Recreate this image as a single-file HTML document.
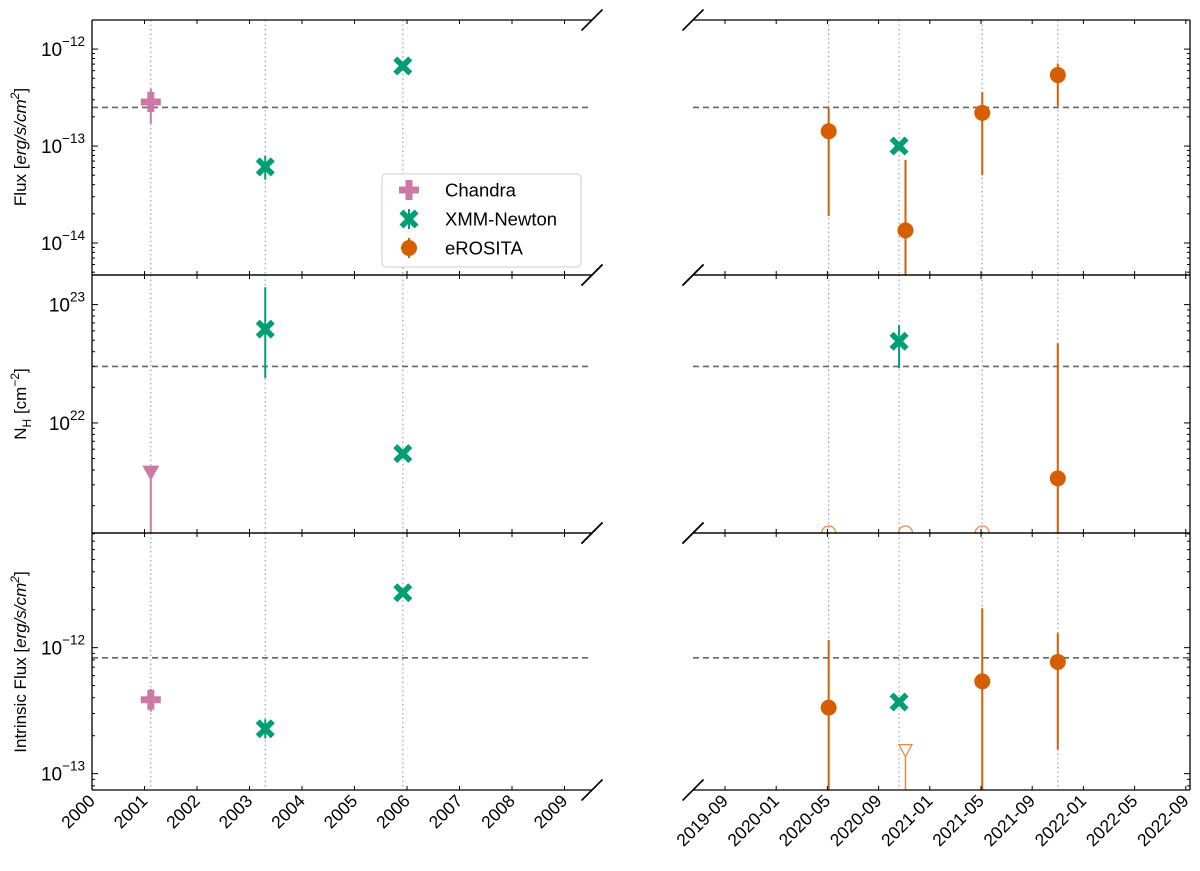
<!DOCTYPE html>
<html><head><meta charset="utf-8"><style>
html,body{margin:0;background:#fff;overflow:hidden;width:1200px;height:871px}
svg{display:block;font-family:"Liberation Sans","DejaVu Sans",sans-serif}
</style></head><body>
<svg id="fig" width="1200" height="871" viewBox="0 0 1200 871" xmlns="http://www.w3.org/2000/svg"></svg>
<script>
// ---- data ----
const obsYearsLeft = [2001.12, 2003.3, 2005.92];
const obsMonthsRight = [8.1, 13.6, 20.1, 26.0];
const chandraDate = [2001.12];
const chandraFlux = [2.85e-13], chandraFluxLo = [1.7e-13], chandraFluxHi = [3.9e-13];
const chandraNHUL = [3.8e21];
const chandraIFlux = [3.86e-13], chandraIFluxLo = [3.1e-13], chandraIFluxHi = [4.7e-13];
const xmmDateL = [2003.3, 2005.92];
const xmmFluxL = [6.1e-14, 6.7e-13], xmmFluxLoL = [4.5e-14, 6.3e-13], xmmFluxHiL = [7.9e-14, 7.2e-13];
const xmmNHL = [6.2e22, 5.5e21], xmmNHLoL = [2.4e22, 5.0e21], xmmNHHiL = [1.4e23, 6.0e21];
const xmmIFluxL = [2.27e-13, 2.73e-12], xmmIFluxLoL = [1.9e-13, 2.6e-12], xmmIFluxHiL = [2.7e-13, 2.9e-12];
const xmmDateR = [13.6];
const xmmFluxR = [1.0e-13], xmmNHR = [4.9e22], xmmNHLoR = [2.9e22], xmmNHHiR = [6.7e22], xmmIFluxR = [3.7e-13];
const eroDate = [8.1, 14.1, 20.1, 26.0];
const eroFlux = [1.42e-13, 1.35e-14, 2.2e-13, 5.4e-13];
const eroFluxLo = [1.9e-14, 1e-16, 5.0e-14, 2.6e-13];
const eroFluxHi = [2.5e-13, 7.2e-14, 3.6e-13, 7.1e-13];
const eroNH = [null, null, null, 3.4e21];
const eroNHLo = [null, null, null, 1e19];
const eroNHHi = [null, null, null, 4.7e22];
const eroIFlux = [3.34e-13, null, 5.4e-13, 7.7e-13];
const eroIFluxLo = [1e-15, null, 1e-15, 1.55e-13];
const eroIFluxHi = [1.15e-12, null, 2.05e-12, 1.3e-12];
const eroNHOpen = [8.1, 14.1, 20.1];
const eroIFluxUL = [{d:14.1, v:1.55e-13}];
const refFlux = 2.5e-13, refNH = 3.0e22, refIFlux = 8.3e-13;
const leftTicks = ['2000','2001','2002','2003','2004','2005','2006','2007','2008','2009'];
const rightTicks = ['2019-09','2020-01','2020-05','2020-09','2021-01','2021-05','2021-09','2022-01','2022-05','2022-09'];

// ---- layout ----
const NS='http://www.w3.org/2000/svg';
const svg=document.getElementById('fig');
function el(tag,attrs,parent){const e=document.createElementNS(NS,tag);for(const k in attrs)e.setAttribute(k,attrs[k]);(parent||svg).appendChild(e);return e;}
const LX0=92, LX1=592, RX0=693, RX1=1190;
const xL = y => LX0 + (y-2000)*52.5;
const xR = m => 725 + m*12.8;
const rows=[
 {y0:20,y1:275,top:-11.70,bot:-14.33},
 {y0:275,y1:533,top:23.25,bot:21.07},
 {y0:533,y1:790,top:-11.09,bot:-13.13}
];
function yS(r,v){const R=rows[r];const l=Math.log10(v);return R.y0+(R.top-l)/(R.top-R.bot)*(R.y1-R.y0);}
const PINK='#cc79a7', GREEN='#009e73', ORANGE='#d55e00', LORANGE='#ee8844';

const defs=el('defs',{});
for(let r=0;r<3;r++){
  [[LX0,LX1,'L'],[RX0,RX1,'R']].forEach(([a,b,s])=>{
    const c=el('clipPath',{id:'c'+r+s},defs);
    el('rect',{x:a,y:rows[r].y0,width:b-a,height:rows[r].y1-rows[r].y0},c);
  });
}
function grp(r,s){const g=el('g',{'clip-path':'url(#c'+r+s+')'});return g;}

for(let r=0;r<3;r++){
  const gL=grp(r,'L'), gR=grp(r,'R');
  obsYearsLeft.forEach(v=>{const l=el('line',{x1:xL(v),x2:xL(v),y1:rows[r].y0,y2:rows[r].y1,stroke:'#aaa','stroke-width':1.3,'stroke-dasharray':'1.5 3'},gL);
    
    });
  obsMonthsRight.forEach(v=>{const l=el('line',{x1:xR(v),x2:xR(v),y1:rows[r].y0,y2:rows[r].y1,stroke:'#aaa','stroke-width':1.3,'stroke-dasharray':'1.5 3'},gR);
    
    });
}
[refFlux,refNH,refIFlux].forEach((v,r)=>{
  [[LX0,LX1],[RX0,RX1]].forEach(([a,b])=>{
    const l=el('line',{x1:a,x2:b,y1:yS(r,v),y2:yS(r,v),stroke:'#666','stroke-width':1.6,'stroke-dasharray':'6 4'});
    
    
  });
});

function errbar(g,x,ylo,yhi,c,w){el('line',{x1:x,x2:x,y1:ylo,y2:yhi,stroke:c,'stroke-width':w||2},g);}
function plus(g,x,y,c){return el('path',{d:`M${x-3.5},${y-10}h7v6.5h6.5v7h-6.5v6.5h-7v-6.5h-6.5v-7h6.5z`,fill:c},g);}
function xmark(g,x,y,c){return el('path',{d:`M${x},${y-4}l5.5,-5.5l4,4l-5.5,5.5l5.5,5.5l-4,4l-5.5,-5.5l-5.5,5.5l-4,-4l5.5,-5.5l-5.5,-5.5l4,-4z`,fill:c},g);}
function circ(g,x,y,c){return el('circle',{cx:x,cy:y,r:8,fill:c},g);}

// ---- row 0 ----
{let g=grp(0,'L');
 chandraDate.forEach((d,i)=>{errbar(g,xL(d),yS(0,chandraFluxLo[i]),yS(0,chandraFluxHi[i]),PINK);const m=plus(g,xL(d),yS(0,chandraFlux[i]),PINK);
   
   });
 xmmDateL.forEach((d,i)=>{errbar(g,xL(d),yS(0,xmmFluxLoL[i]),yS(0,xmmFluxHiL[i]),GREEN);const m=xmark(g,xL(d),yS(0,xmmFluxL[i]),GREEN);
   
   });
 g=grp(0,'R');
 xmmDateR.forEach((d,i)=>{const m=xmark(g,xR(d),yS(0,xmmFluxR[i]),GREEN);
   
   });
 eroDate.forEach((d,i)=>{errbar(g,xR(d),yS(0,eroFluxLo[i]),yS(0,eroFluxHi[i]),ORANGE);const m=circ(g,xR(d),yS(0,eroFlux[i]),ORANGE);
   
   });
}
// ---- row 1 ----
{let g=grp(1,'L');
 chandraNHUL.forEach((v,i)=>{const x=xL(chandraDate[i]),y=yS(1,v);errbar(g,x,y,rows[1].y1,PINK);
   const m=el('path',{d:`M${x-8.5},${y-7}h17l-8.5,15z`,fill:PINK},g);
   
   });
 xmmDateL.forEach((d,i)=>{errbar(g,xL(d),yS(1,xmmNHLoL[i]),yS(1,xmmNHHiL[i]),GREEN);const m=xmark(g,xL(d),yS(1,xmmNHL[i]),GREEN);
   
   });
 g=grp(1,'R');
 xmmDateR.forEach((d,i)=>{errbar(g,xR(d),yS(1,xmmNHLoR[i]),yS(1,xmmNHHiR[i]),GREEN);const m=xmark(g,xR(d),yS(1,xmmNHR[i]),GREEN);
   
   });
 eroDate.forEach((d,i)=>{if(eroNH[i]==null)return;errbar(g,xR(d),yS(1,eroNHLo[i]),yS(1,eroNHHi[i]),ORANGE);const m=circ(g,xR(d),yS(1,eroNH[i]),ORANGE);
   
   });
 eroNHOpen.forEach(d=>{const m=el('circle',{cx:xR(d),cy:rows[1].y1,r:7,fill:'none',stroke:LORANGE,'stroke-width':1.3},g);
   
   });
}
// ---- row 2 ----
{let g=grp(2,'L');
 chandraDate.forEach((d,i)=>{errbar(g,xL(d),yS(2,chandraIFluxLo[i]),yS(2,chandraIFluxHi[i]),PINK);const m=plus(g,xL(d),yS(2,chandraIFlux[i]),PINK);
   
   });
 xmmDateL.forEach((d,i)=>{errbar(g,xL(d),yS(2,xmmIFluxLoL[i]),yS(2,xmmIFluxHiL[i]),GREEN);const m=xmark(g,xL(d),yS(2,xmmIFluxL[i]),GREEN);
   
   });
 g=grp(2,'R');
 xmmDateR.forEach((d,i)=>{const m=xmark(g,xR(d),yS(2,xmmIFluxR[i]),GREEN);
   
   });
 eroDate.forEach((d,i)=>{if(eroIFlux[i]==null)return;errbar(g,xR(d),yS(2,eroIFluxLo[i]),yS(2,eroIFluxHi[i]),ORANGE);const m=circ(g,xR(d),yS(2,eroIFlux[i]),ORANGE);
   
   });
 eroIFluxUL.forEach(u=>{const x=xR(u.d),y=yS(2,u.v);el('line',{x1:x,x2:x,y1:y+5,y2:rows[2].y1,stroke:LORANGE,'stroke-width':1.5},g);
   const m=el('path',{d:`M${x-6.5},${y-5}h13l-6.5,12z`,fill:'#fff',stroke:LORANGE,'stroke-width':1.3},g);
   
   });
}

// ---- axes ----
const AX='#000';
for(let r=0;r<3;r++){
  const R=rows[r];
  el('line',{x1:LX0,x2:LX1,y1:R.y0,y2:R.y0,stroke:AX,'stroke-width':1.3});
  el('line',{x1:LX0,x2:LX1,y1:R.y1,y2:R.y1,stroke:AX,'stroke-width':1.3});
  el('line',{x1:LX0,x2:LX0,y1:R.y0,y2:R.y1,stroke:AX,'stroke-width':1.3});
  el('line',{x1:RX0,x2:RX1,y1:R.y0,y2:R.y0,stroke:AX,'stroke-width':1.3});
  el('line',{x1:RX0,x2:RX1,y1:R.y1,y2:R.y1,stroke:AX,'stroke-width':1.3});
  el('line',{x1:RX1,x2:RX1,y1:R.y0,y2:R.y1,stroke:AX,'stroke-width':1.3});
  [[LX1,R.y0],[RX0,R.y0],[LX1,R.y1],[RX0,R.y1]].forEach(([x,y])=>el('line',{x1:x-10.5,y1:y+10.5,x2:x+10.5,y2:y-10.5,stroke:AX,'stroke-width':1.6}));
  leftTicks.forEach((t,i)=>{const x=xL(2000+i);el('line',{x1:x,x2:x,y1:R.y1,y2:R.y1-4,stroke:AX});el('line',{x1:x,x2:x,y1:R.y0,y2:R.y0+4,stroke:AX});});
  rightTicks.forEach((t,i)=>{const x=xR(i*4);el('line',{x1:x,x2:x,y1:R.y1,y2:R.y1-4,stroke:AX});el('line',{x1:x,x2:x,y1:R.y0,y2:R.y0+4,stroke:AX});});
  for(let d=Math.floor(R.bot);d<=Math.ceil(R.top);d++){
    for(let k=1;k<10;k++){
      const l=d+Math.log10(k); if(l<R.bot||l>R.top) continue;
      const y=R.y0+(R.top-l)/(R.top-R.bot)*(R.y1-R.y0);
      const len=k===1?6:3;
      el('line',{x1:LX0,x2:LX0+len,y1:y,y2:y,stroke:AX});
      el('line',{x1:RX1,x2:RX1-len,y1:y,y2:y,stroke:AX});
      if(k===1){
        const t=el('text',{x:LX0-7,y:y+7,'text-anchor':'end','font-size':19,fill:'#000'});
        
        
        t.appendChild(document.createTextNode('10'));
        const s=el('tspan',{dy:-10,'font-size':13.5},t); s.textContent=(d<0?'\u2212'+(-d):''+d);
      }
    }
  }
}
leftTicks.forEach((t,i)=>{const x=xL(2000+i)+4,y=802;const e=el('text',{x:x,y:y,'text-anchor':'end','font-size':17.5,transform:`rotate(-45 ${x} ${y})`});e.textContent=t;
  
  });
rightTicks.forEach((t,i)=>{const x=xR(i*4)+4,y=802;const e=el('text',{x:x,y:y,'text-anchor':'end','font-size':17.5,transform:`rotate(-45 ${x} ${y})`});e.textContent=t;
  
  });

function ytitle(cy,html,n){const e=el('text',{x:0,y:0,'text-anchor':'middle','font-size':17,transform:`translate(26 ${cy}) rotate(-90)`});e.innerHTML=html;
  
  }
ytitle(147,'Flux [<tspan font-style="italic">erg/s/cm</tspan><tspan font-style="italic" dy="-7" font-size="12">2</tspan><tspan dy="7">]</tspan>','flux-axis-title');
ytitle(404,'N<tspan dy="5" font-size="12">H</tspan><tspan dy="-5"> [cm</tspan><tspan dy="-7" font-size="12">−2</tspan><tspan dy="7">]</tspan>','nh-axis-title');
ytitle(662,'Intrinsic Flux [<tspan font-style="italic">erg/s/cm</tspan><tspan font-style="italic" dy="-7" font-size="12">2</tspan><tspan dy="7">]</tspan>','intrinsic-flux-axis-title');

const lg=el('g',{});


el('rect',{x:382,y:174,width:199,height:93,rx:4,fill:'#fff',stroke:'#ccc','stroke-width':1},lg);
[['Chandra',PINK,plus],['XMM-Newton',GREEN,xmark],['eROSITA',ORANGE,circ]].forEach(([t,c,f],i)=>{
  const y=190+i*29;
  const g=el('g',{},lg);
  
  
  errbar(g,409,y-10,y+10,c);f(g,409,y,c);
  const tx=el('text',{x:445,y:y+6.5,'font-size':18.5},g);tx.textContent=t;
});
</script>
</body></html>
